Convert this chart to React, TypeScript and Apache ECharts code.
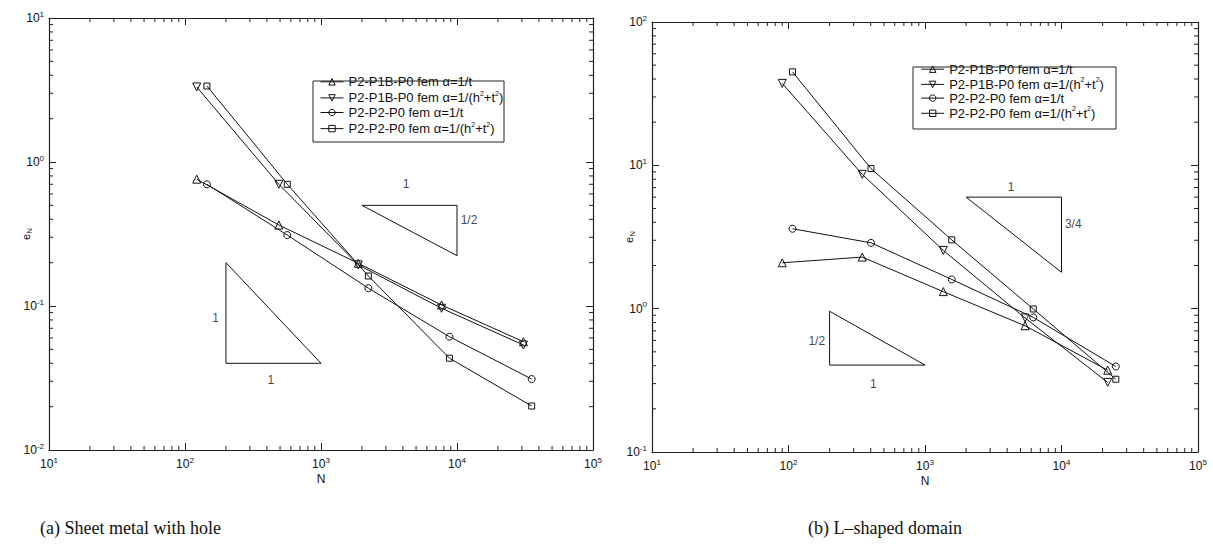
import React, { useEffect, useRef } from 'react';
import * as echarts from 'echarts';

// ---------- names ----------
const nameP1Bt = 'P2-P1B-P0 fem α=1/t';
const nameP1Bh = 'P2-P1B-P0 fem α=1/(h^2+t^2)';
const nameP2t = 'P2-P2-P0 fem α=1/t';
const nameP2h = 'P2-P2-P0 fem α=1/(h^2+t^2)';
const legendNames = [nameP1Bt, nameP1Bh, nameP2t, nameP2h];

// ---------- (a) Sheet metal with hole ----------
const sheetN_P1B = [122, 490, 1880, 7700, 30800];
const sheetE_P1Bt = [0.76, 0.365, 0.198, 0.1016, 0.0565];
const sheetE_P1Bh = [3.32, 0.70, 0.193, 0.0964, 0.0536];
const sheetN_P2 = [145, 565, 2230, 8800, 35400];
const sheetE_P2t = [0.70, 0.311, 0.133, 0.0612, 0.0311];
const sheetE_P2h = [3.37, 0.70, 0.1616, 0.0434, 0.0202];

// slope triangles (a)
const sheetTriBigN = [200, 200, 1000, 200];
const sheetTriBigE = [0.2, 0.04, 0.04, 0.2];
const sheetTriSmallN = [2000, 10000, 10000, 2000];
const sheetTriSmallE = [0.5, 0.5, 0.2236, 0.5];
const sheetTriLabels = ['1', '1', '1', '1/2'];
const sheetTriLabelN = [168, 427, 4220, 12250];
const sheetTriLabelE = [0.0822, 0.0306, 0.70, 0.395];

// ---------- (b) L-shaped domain ----------
const lN_P1B = [90, 347, 1361, 5410, 21800];
const lE_P1Bt = [2.09, 2.29, 1.315, 0.76, 0.372];
const lE_P1Bh = [37.3, 8.65, 2.55, 0.861, 0.306];
const lN_P2 = [107, 402, 1570, 6210, 25000];
const lE_P2t = [3.61, 2.88, 1.60, 0.869, 0.395];
const lE_P2h = [44.9, 9.49, 3.02, 0.995, 0.322];

const lTriBigN = [2000, 10000, 10000, 2000];
const lTriBigE = [6, 6, 1.794, 6];
const lTriSmallN = [200, 200, 1000, 200];
const lTriSmallE = [0.96, 0.404, 0.404, 0.96];
const lTriLabels = ['1', '3/4', '1/2', '1'];
const lTriLabelN = [4270, 12200, 161, 418];
const lTriLabelE = [7.05, 3.91, 0.597, 0.30];

// axis ranges
const xMin = 10, xMax = 100000;
const yMinA = 0.01, yMaxA = 10;
const yMinB = 0.1, yMaxB = 100;

// minor tick multipliers (axis decoration)
const minorMult = [2, 3, 4, 5, 6, 7, 8, 9];
const decadesX = [10, 100, 1000, 10000];
const decadesYA = [0.01, 0.1, 1];
const decadesYB = [0.1, 1, 10];

const FONT = 'Liberation Sans, Arial, Helvetica, sans-serif';
const INK = '#111';

const zip = (a: number[], b: number[]) => a.map((v, i) => [v, b[i]]);

function richName(n: string) {
  const parts = n.split(/\^(\d)/);
  return parts
    .map((p, i) => (i % 2 === 1 ? `{s|${p}}` : p ? `{n|${p}}` : ''))
    .join('');
}

const legendRich = {
  n: { fontSize: 13, lineHeight: 16, fontFamily: FONT, color: INK },
  s: { fontSize: 7, lineHeight: 7, verticalAlign: 'top', fontFamily: FONT, color: INK },
};

const tickRich = {
  b: { fontSize: 12, lineHeight: 16, fontFamily: FONT, color: INK },
  s: { fontSize: 8, lineHeight: 8, verticalAlign: 'top', fontFamily: FONT, color: INK },
};

function tickFmt(v: number) {
  const k = Math.round(Math.log10(v));
  return `{b|10}{s|${k}}`;
}

function mainSeries(
  names: string[],
  ns: number[][],
  es: number[][],
  xi: number,
  yi: number
) {
  const symbols = ['triangle', 'triangle', 'circle', 'rect'];
  const rot = [0, 180, 0, 0];
  const sizes = [8, 8, 7, 6];
  return names.map((nm, i) => ({
    name: nm,
    type: 'line',
    xAxisIndex: xi,
    yAxisIndex: yi,
    data: zip(ns[i], es[i]),
    symbol: symbols[i],
    symbolRotate: rot[i],
    symbolSize: sizes[i],
    showAllSymbol: true,
    color: INK,
    lineStyle: { color: INK, width: 1 },
    itemStyle: { color: 'rgba(255,255,255,0)', borderColor: INK, borderWidth: 1 },
    z: 3,
  }));
}

function triSeries(n: number[], e: number[], xi: number, yi: number) {
  return {
    type: 'line',
    xAxisIndex: xi,
    yAxisIndex: yi,
    data: zip(n, e),
    symbol: 'none',
    lineStyle: { color: INK, width: 1 },
    silent: true,
    z: 2,
  };
}

function labelSeries(labels: string[], n: number[], e: number[], xi: number, yi: number) {
  return {
    type: 'scatter',
    xAxisIndex: xi,
    yAxisIndex: yi,
    symbolSize: 0,
    data: labels.map((t, i) => ({ name: t, value: [n[i], e[i]] })),
    label: {
      show: true,
      position: 'inside',
      formatter: '{b}',
      color: INK,
      fontSize: 12,
      fontFamily: FONT,
    },
    silent: true,
  };
}

function minorSeries(yBase: number, decY: number[], xi: number, yi: number) {
  const data: number[][] = [];
  decadesX.forEach((d) => minorMult.forEach((m) => data.push([d * m, yBase, 0])));
  decY.forEach((d) => minorMult.forEach((m) => data.push([xMin, d * m, 1])));
  return {
    type: 'custom',
    xAxisIndex: xi,
    yAxisIndex: yi,
    silent: true,
    clip: false,
    data,
    renderItem: (params: any, api: any) => {
      const cs = params.coordSys;
      const p = api.coord([api.value(0), api.value(1)]);
      const L = 4;
      const st = { stroke: '#222', lineWidth: 1 };
      if (api.value(2) === 0) {
        return {
          type: 'group',
          children: [
            { type: 'line', shape: { x1: p[0], y1: cs.y + cs.height, x2: p[0], y2: cs.y + cs.height - L }, style: st },
            { type: 'line', shape: { x1: p[0], y1: cs.y, x2: p[0], y2: cs.y + L }, style: st },
          ],
        };
      }
      return {
        type: 'group',
        children: [
          { type: 'line', shape: { x1: cs.x, y1: p[1], x2: cs.x + L, y2: p[1] }, style: st },
          { type: 'line', shape: { x1: cs.x + cs.width, y1: p[1], x2: cs.x + cs.width - L, y2: p[1] }, style: st },
        ],
      };
    },
  };
}

function xAxes(grid: number) {
  const common = {
    type: 'log',
    logBase: 10,
    min: xMin,
    max: xMax,
    gridIndex: grid,
    splitLine: { show: false },
    axisLine: { show: true, lineStyle: { color: '#222', width: 1.2 } },
    axisTick: { show: true, inside: true, length: 7, lineStyle: { color: '#222' } },
  };
  return [
    {
      ...common,
      position: 'bottom',
      name: 'N',
      nameLocation: 'middle',
      nameGap: 23,
      nameMoveOverlap: false,
      nameTextStyle: { fontSize: 12, fontFamily: FONT, color: INK },
      axisLabel: {
        show: true,
        margin: 6,
        formatter: tickFmt,
        rich: tickRich,
        showMinLabel: true,
        showMaxLabel: true,
      },
    },
    { ...common, position: 'top', axisLabel: { show: false } },
  ];
}

function yAxes(grid: number, mn: number, mx: number) {
  const common = {
    type: 'log',
    logBase: 10,
    min: mn,
    max: mx,
    gridIndex: grid,
    splitLine: { show: false },
    axisLine: { show: true, lineStyle: { color: '#222', width: 1.2 } },
    axisTick: { show: true, inside: true, length: 7, lineStyle: { color: '#222' } },
  };
  return [
    {
      ...common,
      position: 'left',
      name: '{e|e}{s|N}',
      nameLocation: 'middle',
      nameGap: 16,
      nameMoveOverlap: false,
      nameTextStyle: {
        rich: {
          e: { fontSize: 11, lineHeight: 14, fontFamily: FONT, color: INK },
          s: { fontSize: 8, lineHeight: 8, verticalAlign: 'bottom', fontFamily: FONT, color: INK },
        },
      },
      axisLabel: {
        show: true,
        margin: 5,
        formatter: tickFmt,
        rich: tickRich,
        showMinLabel: true,
        showMaxLabel: true,
      },
    },
    { ...common, position: 'right', axisLabel: { show: false } },
  ];
}

function legend(left: number, top: number, gap: number) {
  return {
    data: legendNames,
    orient: 'vertical',
    left,
    top,
    padding: 0,
    itemGap: gap,
    itemWidth: 23,
    itemHeight: 8,
    formatter: (n: string) => richName(n),
    textStyle: { rich: legendRich, fontFamily: FONT, color: INK },
    itemStyle: { color: 'rgba(255,255,255,0)', borderColor: INK, borderWidth: 1 },
    lineStyle: { color: INK, width: 1 },
    selectedMode: false,
  };
}

export default function App() {
  const ref = useRef<HTMLDivElement>(null);
  useEffect(() => {
    if (!ref.current) return;
    const chart = echarts.init(ref.current, undefined, { renderer: 'svg' });
    const option: any = {
      animation: false,
      backgroundColor: '#fff',
      grid: [
        { left: 49, top: 18, width: 544, height: 432 },
        { left: 652, top: 22, width: 546, height: 430 },
      ],
      xAxis: [...xAxes(0), ...xAxes(1)],
      yAxis: [...yAxes(0, yMinA, yMaxA), ...yAxes(1, yMinB, yMaxB)],
      legend: [legend(320, 75.3, 1.6), legend(920.7, 62.7, 0.7)],
      series: [
        ...mainSeries(
          legendNames,
          [sheetN_P1B, sheetN_P1B, sheetN_P2, sheetN_P2],
          [sheetE_P1Bt, sheetE_P1Bh, sheetE_P2t, sheetE_P2h],
          0,
          0
        ),
        triSeries(sheetTriBigN, sheetTriBigE, 0, 0),
        triSeries(sheetTriSmallN, sheetTriSmallE, 0, 0),
        labelSeries(sheetTriLabels, sheetTriLabelN, sheetTriLabelE, 0, 0),
        minorSeries(yMinA, decadesYA, 0, 0),
        ...mainSeries(
          legendNames,
          [lN_P1B, lN_P1B, lN_P2, lN_P2],
          [lE_P1Bt, lE_P1Bh, lE_P2t, lE_P2h],
          2,
          2
        ),
        triSeries(lTriBigN, lTriBigE, 2, 2),
        triSeries(lTriSmallN, lTriSmallE, 2, 2),
        labelSeries(lTriLabels, lTriLabelN, lTriLabelE, 2, 2),
        minorSeries(yMinB, decadesYB, 2, 2),
      ],
      graphic: [
        { type: 'rect', shape: { x: 313, y: 81, width: 191, height: 61 }, style: { fill: 'none', stroke: '#222', lineWidth: 1 }, z: 10 },
        { type: 'rect', shape: { x: 913, y: 67, width: 203, height: 62 }, style: { fill: 'none', stroke: '#222', lineWidth: 1 }, z: 10 },
        { type: 'text', x: 40, y: 528, style: { text: '(a) Sheet metal with hole', font: '18px "Liberation Serif", "DejaVu Serif", serif', fill: '#111', verticalAlign: 'middle' } },
        { type: 'text', x: 808, y: 528, style: { text: '(b) L–shaped domain', font: '18px "Liberation Serif", "DejaVu Serif", serif', fill: '#111', verticalAlign: 'middle' } },
      ],
    };
    chart.setOption(option);
    return () => chart.dispose();
  }, []);
  return (
    <div
      ref={ref}
      style={{ position: 'fixed', left: 0, top: 0, width: 1213, height: 553, background: '#fff' }}
    />
  );
}
